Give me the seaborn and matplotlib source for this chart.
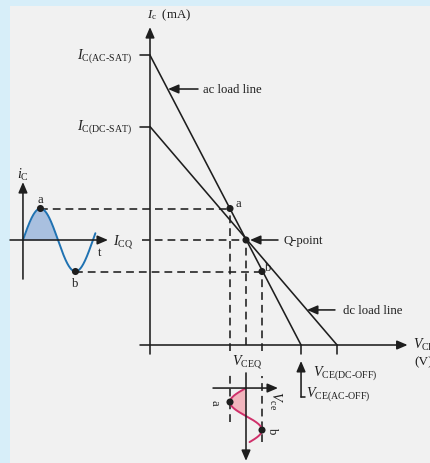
import numpy as np
import matplotlib
matplotlib.use("Agg")
import matplotlib.pyplot as plt
import seaborn as sns

# ---- operating point and signal swing ----
I_CQ = 5.0        # mA
V_CEQ = 6.0       # V
ic_swing = 1.5    # mA peak
vce_swing = 1.0   # V peak

# ---- load lines: saturation current and cutoff voltage ----
load_lines = ["ac", "dc"]
sat_current = [13.8, 10.4]      # mA
cutoff_voltage = [9.44, 11.69]  # V

# ---- marked points on the ac load line ----
point_names = ["a", "Q", "b"]
point_vce = [5.0, 6.0, 7.0]
point_ic = [6.5, 5.0, 3.5]

sns.set_theme(style="white")
plt.rcParams["font.family"] = ["Liberation Serif", "DejaVu Serif"]
plt.rcParams["mathtext.fontset"] = "custom"
plt.rcParams["mathtext.rm"] = "Liberation Serif"
plt.rcParams["mathtext.it"] = "Liberation Serif:italic"
plt.rcParams["lines.scale_dashes"] = False

INK = "#1e1e1e"
BLUE = "#1f72b2"
BLUE_FILL = "#a9c0df"
RED = "#d0306a"
RED_FILL = "#f2b5bd"
FS = 9.2
FS_SUB = 10.2
LW = 1.15
DASH = (5.6, 3.6)

fig = plt.figure(figsize=(4.3, 4.64), dpi=100, facecolor="#d7eef9")
panel = fig.add_axes([10 / 430, 0, 420 / 430, 457 / 464], zorder=0)
panel.set_facecolor("#f1f1f1")
panel.set_xticks([])
panel.set_yticks([])
for sp in panel.spines.values():
    sp.set_visible(False)

ax = fig.add_axes([0, 0, 1, 1], zorder=1)
ax.set_xlim(-150 / 16, 280 / 16)
ax.set_ylim(-118 / 21, 346 / 21)
ax.axis("off")
ax.patch.set_alpha(0)


def arrow(tail, tip, lw=LW, scale=9, color=INK):
    ax.annotate("", xy=tip, xytext=tail,
                arrowprops=dict(arrowstyle="-|>,head_length=0.7,head_width=0.3",
                                mutation_scale=scale, lw=lw, color=color,
                                shrinkA=0, shrinkB=0), zorder=5)


def seg(xs, ys, dashed=False, color=INK, lw=LW, z=3, orient="x"):
    sns.lineplot(x=xs, y=ys, ax=ax, color=color, lw=lw, estimator=None, orient=orient,
                 dashes=False, zorder=z, legend=False)
    if dashed:
        ax.lines[-1].set_dashes(DASH)


# ---- main axes ----
arrow((0, -0.43), (0, 15.14))
arrow((-0.625, 0), (16.1, 0))
ax.text(-0.19, 15.76, r"$I_{\mathrm{c}}$  (mA)", fontsize=FS, va="center", ha="left", color=INK)
ax.text(16.44, 0.05, r"$V_{\mathrm{CE}}$", fontsize=FS + 0.8, va="center", ha="left", color=INK)
ax.text(16.5, -0.76, "(V)", fontsize=FS + 0.3, va="center", ha="left", color=INK)

# ---- load lines ----
for name, isat, voff in zip(load_lines, sat_current, cutoff_voltage):
    seg([0, voff], [isat, 0], z=4)
    seg([-0.625, 0], [isat, isat])
    seg([voff, voff], [0, -0.43], orient="y")
    ax.text(-1.1, isat, r"$I_{\mathrm{C(%s‐SAT)}}$" % name.upper(), fontsize=FS_SUB,
            va="center", ha="right", color=INK)

# ---- projections of a, Q, b ----
va, vq, vb = point_vce
ia, iq, ib = point_ic

period_t = 70 / 16
x0 = -7.94
phase_i = np.linspace(0, 6.5, 300)
t_x = x0 + phase_i / (2 * np.pi) * period_t
ic_y = I_CQ + ic_swing * np.sin(phase_i)
xa_t = x0 + period_t / 4
xb_t = x0 + 3 * period_t / 4

seg([xa_t, va], [ia, ia], dashed=True, z=2)
seg([-0.5, vq], [iq, iq], dashed=True, z=2)
seg([xb_t, vb], [ib, ib], dashed=True, z=2)
seg([va, va], [ia, -0.29], dashed=True, z=2, orient="y")
seg([vq, vq], [iq, 0], dashed=True, z=2, orient="y")
seg([vb, vb], [ib, -0.29], dashed=True, z=2, orient="y")
seg([va, va], [-1.29, -3.67], dashed=True, z=2, orient="y")
seg([vb, vb], [-1.48, -4.62], dashed=True, z=2, orient="y")

sns.scatterplot(x=point_vce, y=point_ic, ax=ax, color=INK, s=26, edgecolor="none",
                zorder=6, legend=False)
ax.text(va + 0.35, ia + 0.25, "a", fontsize=FS, va="center", ha="left", color=INK)
ax.text(vb + 0.2, ib + 0.2, "b", fontsize=FS, va="center", ha="left", color=INK)
ax.text(vq + 0.06, -0.76, r"$V_{\mathrm{CEQ}}$", fontsize=FS_SUB, va="center", ha="center", color=INK)

# ---- callouts ----
arrow((3.0, 12.19), (1.125, 12.19))
ax.text(3.31, 12.19, "ac load line", fontsize=FS, va="center", ha="left", color=INK)
arrow((8.0, iq), (6.25, iq))
ax.text(8.375, iq, "Q-point", fontsize=FS, va="center", ha="left", color=INK)
arrow((11.56, 1.67), (9.81, 1.67))
ax.text(12.06, 1.67, "dc load line", fontsize=FS, va="center", ha="left", color=INK)

ac_off = cutoff_voltage[0]
seg([ac_off, ac_off + 0.25], [-2.48, -2.48])
arrow((ac_off, -2.48), (ac_off, -0.76))
ax.text(10.2, -1.29, r"$V_{\mathrm{CE(DC‐OFF)}}$", fontsize=FS_SUB, va="center", ha="left", color=INK)
ax.text(9.72, -2.3, r"$V_{\mathrm{CE(AC‐OFF)}}$", fontsize=FS_SUB, va="center", ha="left", color=INK)

# ---- collector current waveform ----
arrow((x0, 3.14), (x0, 7.76))
arrow((-8.75, I_CQ), (-2.625, I_CQ))
half = phase_i <= np.pi
ax.fill_between(t_x[half], I_CQ, ic_y[half], color=BLUE_FILL, lw=0, zorder=1)
seg(t_x, ic_y, color=BLUE, lw=1.4, z=3)
sns.scatterplot(x=[xa_t, xb_t], y=[ia, ib], ax=ax, color=INK, s=26, edgecolor="none",
                zorder=6, legend=False)
ax.text(x0, 8.14, r"$i_{\mathrm{C}}$", fontsize=FS_SUB, va="center", ha="center", color=INK)
ax.text(xa_t, 6.95, "a", fontsize=FS, va="center", ha="center", color=INK)
ax.text(xb_t, 2.95, "b", fontsize=FS, va="center", ha="center", color=INK)
ax.text(-3.125, 4.43, "t", fontsize=FS, va="center", ha="center", color=INK)
ax.text(-1.06, I_CQ, r"$I_{\mathrm{CQ}}$", fontsize=FS_SUB, va="center", ha="right", color=INK)

# ---- collector-emitter voltage waveform (time runs downward) ----
period_v = 56 / 21
y0 = -2.05
phase_v = np.linspace(0, 6.06, 300)
v_y = y0 - phase_v / (2 * np.pi) * period_v
vce_x = V_CEQ - vce_swing * np.sin(phase_v)
arrow((V_CEQ, -1.33), (V_CEQ, -5.52))
arrow((3.94, y0), (8.0, y0))
halfv = phase_v <= np.pi
ax.fill_betweenx(v_y[halfv], V_CEQ, vce_x[halfv], color=RED_FILL, lw=0, zorder=1)
ax.plot(vce_x, v_y, color=RED, lw=1.4, zorder=3, solid_capstyle="round")
ya_v = y0 - period_v / 4
yb_v = y0 - 3 * period_v / 4
sns.scatterplot(x=[va, vb], y=[ya_v, yb_v], ax=ax, color=INK, s=26, edgecolor="none",
                zorder=6, legend=False)
ax.text(7.81, -2.6, r"$V_{\mathrm{ce}}$", fontsize=FS_SUB, va="center", ha="center",
        rotation=-90, color=INK)
ax.text(4.06, ya_v, "a", fontsize=FS, va="center", ha="center", rotation=-90, color=INK)
ax.text(7.63, yb_v, "b", fontsize=FS, va="center", ha="center", rotation=-90, color=INK)

fig.savefig("out.png", dpi=100, facecolor=fig.get_facecolor())
